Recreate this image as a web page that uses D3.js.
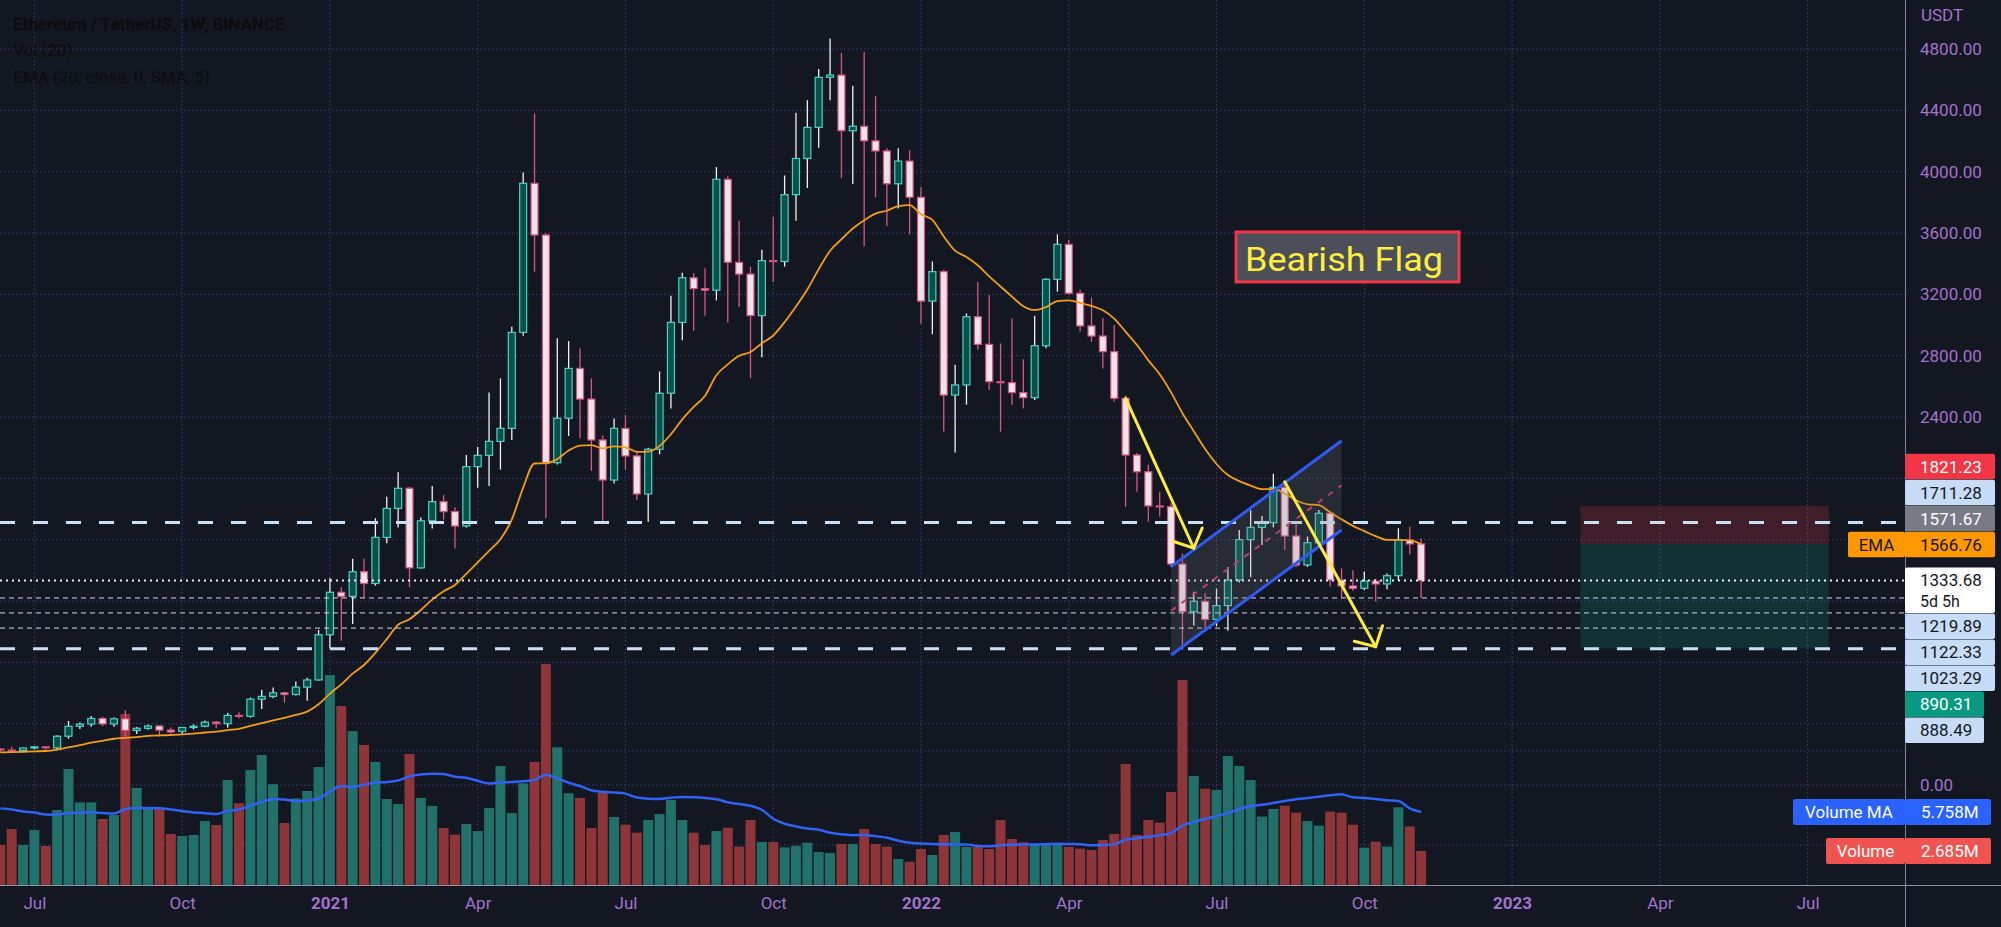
<!DOCTYPE html>
<html><head><meta charset="utf-8">
<script src="https://cdn.jsdelivr.net/npm/d3@7"></script>
<style>html,body{margin:0;padding:0;background:#131722;overflow:hidden}svg{display:block}</style>
</head><body>
<svg id="c" width="2001" height="927"></svg>
<script>
// ---------------- DATA (weekly ETH/USDT, Binance) ----------------
const firstWeek = "2020-06-15";
const open = [235,228,225,241,249,242,318,383,397,434,398,432,356,370,385,358,350,375,383,410,400,454,448,560,578,601,590,638,685,980,1257,1230,1391,1314,1615,1804,1935,1416,1723,1848,1783,1689,2076,2150,2241,2326,2952,3924,3587,2102,2392,2717,2517,2250,1989,2326,2146,1898,2190,2555,3017,3308,3237,3227,3950,3409,3332,3061,3420,3414,3850,4086,4289,4615,4630,4267,4296,4201,4135,3921,4069,3833,3156,3348,2543,2609,3054,2874,2630,2624,2559,2526,2865,3298,3526,3207,2994,2928,2826,2522,2152,2043,1820,1815,1441,1130,1198,1080,1170,1337,1600,1680,1711,1941,1624,1435,1580,1772,1337,1298,1283,1330,1311,1365,1598,1572];
const high = [240,249,243,252,250,325,418,408,450,445,440,488,378,395,390,375,370,395,420,418,470,475,570,622,636,607,675,700,1011,1350,1290,1475,1475,1740,1880,2040,1945,1745,1950,1891,1812,2152,2204,2559,2652,2989,3994,4380,3600,2913,2895,2848,2652,2280,2391,2413,2180,2200,2697,3190,3340,3337,3370,4030,3970,3680,3380,3490,3705,3975,4384,4465,4670,4869,4775,4560,4780,4495,4152,4152,4140,3900,3414,3360,2740,3076,3281,3195,2880,3043,2776,3061,3305,3591,3554,3230,3179,3044,3000,2540,2165,2088,1912,1838,1510,1261,1250,1281,1420,1663,1793,1754,2030,1960,1700,1620,1793,1785,1413,1400,1392,1345,1380,1674,1685,1607];
const low = [216,220,222,232,230,234,302,365,380,383,380,316,332,360,316,335,335,363,377,370,374,435,440,495,565,536,583,550,681,890,940,1050,1220,1300,1576,1680,1290,1410,1673,1730,1543,1680,1939,1950,2057,2250,2930,3348,1739,2090,2276,2262,2049,1717,1967,2054,1858,1717,2156,2455,2900,2962,3061,3160,3017,3117,2653,2790,3281,3381,3680,3894,4156,4465,3958,3920,3513,3833,3645,3759,3592,3006,2940,2305,2168,2480,2840,2576,2304,2480,2456,2511,2848,3217,3195,2957,2891,2717,2500,1815,1913,1717,1750,1420,881,1041,1000,1035,1006,1320,1356,1565,1680,1532,1422,1422,1550,1294,1220,1265,1270,1196,1276,1335,1505,1220];
const close = [228,225,241,249,242,318,383,397,434,398,432,356,370,385,358,346,375,383,410,400,454,448,560,578,601,590,638,685,980,1257,1230,1391,1314,1615,1804,1935,1416,1723,1848,1783,1689,2076,2150,2241,2326,2952,3924,3587,2102,2392,2717,2517,2250,1989,2326,2146,1898,2190,2555,3017,3308,3237,3227,3950,3409,3332,3061,3420,3414,3850,4086,4289,4615,4630,4267,4296,4201,4135,3921,4069,3833,3156,3348,2543,2609,3054,2874,2630,2624,2559,2526,2865,3298,3526,3207,2994,2928,2826,2522,2152,2043,1820,1815,1441,1130,1198,1080,1170,1337,1600,1680,1711,1941,1624,1435,1580,1772,1337,1298,1283,1330,1311,1365,1598,1572,1333.68];
// volume in millions of ETH
const volume = [3.16,4.42,3.16,4.34,3.08,5.92,9.16,6.52,6.52,5.21,5.52,13.5,7.66,6.08,6.08,4.03,3.87,3.95,5.05,4.74,8.29,6.45,9.08,10.26,7.95,4.89,6.84,7.42,9.31,16.57,14.13,12.15,11.05,9.71,6.79,6.39,10.34,6.87,6.24,4.50,3.97,4.81,4.26,6.08,9.39,5.68,8.03,9.71,17.44,10.87,7.24,6.87,4.50,7.32,5.37,4.76,4.13,5.13,5.60,6.71,5.13,4.13,3.16,4.26,4.52,3.03,5.13,3.39,3.39,2.97,3.10,3.34,2.60,2.53,3.24,3.24,4.42,3.24,3.03,2.05,1.84,2.84,2.37,3.95,4.18,3.00,3.00,2.84,5.13,3.63,3.37,3.24,3.24,3.24,3.00,2.87,2.76,3.55,4.03,9.55,3.95,5.13,4.92,7.34,16.18,8.60,7.60,7.50,10.18,9.39,8.29,5.40,6.00,6.26,5.71,5.05,4.68,5.79,5.71,4.76,2.95,3.42,3.03,6.13,4.62,2.685];
const emaPeriod = 20, emaSeed = 211;
const volMAPeriod = 20, volPriorAvg = 6.2;

const priceTicks = [0,400,800,1200,1600,2000,2400,2800,3200,3600,4000,4400,4800];
const volumeGridTicks = [3.16, 10.58];
const timeTicks = ["2020-07-06","2020-10-05","2021-01-04","2021-04-05","2021-07-05","2021-10-04","2022-01-03","2022-04-04","2022-07-04","2022-10-03","2023-01-02","2023-04-03","2023-07-03"];
const timeTickLabels = ["Jul","Oct","2021","Apr","Jul","Oct","2022","Apr","Jul","Oct","2023","Apr","Jul"];

const longDashLevels = [1711.28, 888.49];
const fineDashLevels = [1219.89, 1122.33, 1023.29];
const lastPrice = 1333.68;
const lastPriceCountdown = "5d 5h";

const positionDates = ["2023-02-13","2023-07-16"];
const positionLevels = {stop:1821.23, entry:1571.67, target:890.31};

const channelDates = ["2022-06-06","2022-09-19"];
const channelUpper = [1424, 2245];
const channelLower = [848, 1663];

const arrow1Dates = ["2022-05-09","2022-06-20"], arrow1Prices = [2522, 1544];
const arrow2Dates = ["2022-08-15","2022-10-10"], arrow2Prices = [1978, 902];

const flagLabelText = "Bearish Flag";
const flagLabelDate = "2022-07-16", flagLabelPrice = 3607;

const axisLabelValues = [1821.23, 1711.28, 1571.67, 1566.76, 1333.68, 1219.89, 1122.33, 1023.29, 890.31, 888.49];
const legendLines = ["Ethereum / TetherUS, 1W, BINANCE", "Vol (20)", "EMA (20, close, 0, SMA, 5)"];

// ---------------- STYLE ----------------
const BG = "#131722", GRID = "#3a3e7c", AXIS_TXT = "#a472cc";
const UP_FILL = "#0b4f49", UP_STROKE = "#48d2c9", UP_WICK = "#f2f2f2";
const DN_FILL = "#ede4e9", DN_STROKE = "#d94f7b", DN_WICK = "#de5580";
const VOL_UP = "#21706a", VOL_DN = "#8e3539";
const FONT = "Roboto, 'Liberation Sans', sans-serif";
const plotR = 1905, plotB = 885;

const svg = d3.select("#c");
const parse = d3.utcParse("%Y-%m-%d");
const x = d3.scaleUtc().domain([parse("2020-07-06"), parse("2023-07-03")]).range([34.4, 1807.6]);
const y = d3.scaleLinear().domain([0, 4800]).range([785, 49]);
const yv = d3.scaleLinear().domain([0, 10]).range([885, 758.3]);

const t0 = parse(firstWeek);
const bars = close.map((c, k) => ({date: new Date(t0.getTime() + k * 7 * 864e5), o: open[k], h: high[k], l: low[k], c, v: volume[k]}));

let e = emaSeed;
const ema = bars.map(b => (e = e + (2 / (emaPeriod + 1)) * (b.c - e)));
const vma = bars.map((b, k) => {
  let s = 0;
  for (let j = k - volMAPeriod + 1; j <= k; j++) s += j < 0 ? volPriorAvg : volume[j];
  return s / volMAPeriod;
});

svg.append("rect").attr("width", 2001).attr("height", 927).attr("fill", BG);
svg.append("defs").append("clipPath").attr("id", "plot").append("rect").attr("x", 0).attr("y", 0).attr("width", plotR).attr("height", plotB);
const P = svg.append("g").attr("clip-path", "url(#plot)");

// grid
P.append("g").selectAll("line").data(timeTicks.map(parse)).join("line")
  .attr("x1", d => x(d)).attr("x2", d => x(d)).attr("y1", 0).attr("y2", plotB)
  .attr("stroke", GRID).attr("stroke-width", 1).attr("stroke-dasharray", "1.5 2.5");
P.append("g").selectAll("line").data(priceTicks).join("line")
  .attr("x1", 0).attr("x2", plotR).attr("y1", d => y(d)).attr("y2", d => y(d))
  .attr("stroke", GRID).attr("stroke-width", 1).attr("stroke-dasharray", "1.5 2.5");
P.append("g").selectAll("line").data(volumeGridTicks).join("line")
  .attr("x1", 0).attr("x2", plotR).attr("y1", d => yv(d)).attr("y2", d => yv(d))
  .attr("stroke", GRID).attr("stroke-width", 1).attr("stroke-dasharray", "1.5 2.5");

// position tool
const pxa = x(parse(positionDates[0])), pxb = x(parse(positionDates[1]));
P.append("rect").attr("x", pxa).attr("width", pxb - pxa).attr("y", y(positionLevels.stop)).attr("height", y(positionLevels.entry) - y(positionLevels.stop)).attr("fill", "rgba(242,54,69,0.2)");
P.append("rect").attr("x", pxa).attr("width", pxb - pxa).attr("y", y(positionLevels.entry)).attr("height", y(positionLevels.target) - y(positionLevels.entry)).attr("fill", "rgba(8,153,129,0.2)");

// volume
P.append("g").selectAll("rect").data(bars).join("rect")
  .attr("x", d => x(d.date) - 5).attr("width", 10)
  .attr("y", d => yv(d.v)).attr("height", d => plotB - yv(d.v))
  .attr("fill", d => d.c >= d.o ? VOL_UP : VOL_DN);
P.append("path").datum(vma).attr("fill", "none").attr("stroke", "#2f62f5").attr("stroke-width", 2.5)
  .attr("d", d3.line().x((d, k) => x(bars[k].date)).y(d => yv(d)).curve(d3.curveMonotoneX));

// candles
const cg = P.append("g");
cg.selectAll("line").data(bars).join("line")
  .attr("x1", d => x(d.date)).attr("x2", d => x(d.date)).attr("y1", d => y(d.h)).attr("y2", d => y(d.l))
  .attr("stroke", d => d.c >= d.o ? UP_WICK : DN_WICK).attr("stroke-width", 1.3);
cg.selectAll("rect").data(bars).join("rect")
  .attr("x", d => x(d.date) - 3.5).attr("width", 7)
  .attr("y", d => y(Math.max(d.o, d.c))).attr("height", d => Math.max(1, Math.abs(y(d.o) - y(d.c))))
  .attr("fill", d => d.c >= d.o ? UP_FILL : DN_FILL).attr("stroke", d => d.c >= d.o ? UP_STROKE : DN_STROKE).attr("stroke-width", 1.2);

// EMA
P.append("path").datum(ema).attr("fill", "none").attr("stroke", "#f59d12").attr("stroke-width", 1.8)
  .attr("d", d3.line().x((d, k) => x(bars[k].date)).y(d => y(d)).curve(d3.curveMonotoneX));

// horizontal levels
P.append("g").selectAll("line").data(fineDashLevels).join("line")
  .attr("x1", 0).attr("x2", plotR).attr("y1", d => y(d)).attr("y2", d => y(d))
  .attr("stroke", "#d9d9e3").attr("stroke-width", 1).attr("stroke-dasharray", "5 4");
P.append("g").selectAll("line").data(longDashLevels).join("line")
  .attr("x1", 0).attr("x2", plotR).attr("y1", d => y(d)).attr("y2", d => y(d))
  .attr("stroke", "#c9def7").attr("stroke-width", 3).attr("stroke-dasharray", "15 18");
P.append("line").attr("x1", 0).attr("x2", plotR).attr("y1", y(lastPrice)).attr("y2", y(lastPrice))
  .attr("stroke", "#ececf2").attr("stroke-width", 2).attr("stroke-dasharray", "2 4");

// flag channel
const cx0 = x(parse(channelDates[0])), cx1 = x(parse(channelDates[1]));
P.append("polygon").attr("points", [[cx0, y(channelUpper[0])], [cx1, y(channelUpper[1])], [cx1, y(channelLower[1])], [cx0, y(channelLower[0])]].map(p => p.join(",")).join(" "))
  .attr("fill", "rgba(120,123,134,0.2)");
P.append("line").attr("x1", cx0).attr("x2", cx1).attr("y1", y((channelUpper[0] + channelLower[0]) / 2)).attr("y2", y((channelUpper[1] + channelLower[1]) / 2))
  .attr("stroke", "#b8426b").attr("stroke-width", 2).attr("stroke-dasharray", "6 7");
[channelUpper, channelLower].forEach(c => {
  P.append("line").attr("x1", cx0).attr("x2", cx1).attr("y1", y(c[0])).attr("y2", y(c[1]))
    .attr("stroke", "#2f5cf0").attr("stroke-width", 3);
});

// arrows
function arrow(dates, prices) {
  const x1 = x(parse(dates[0])), y1 = y(prices[0]), x2 = x(parse(dates[1])), y2 = y(prices[1]);
  const a = Math.atan2(y2 - y1, x2 - x1), L = 22, s = 0.82;
  const g = P.append("g").attr("stroke", "#ffeb3b").attr("stroke-width", 3).attr("stroke-linecap", "round").attr("fill", "none");
  g.append("line").attr("x1", x1).attr("y1", y1).attr("x2", x2).attr("y2", y2);
  g.append("path").attr("d", `M${x2 + L * Math.cos(a + Math.PI - s)},${y2 + L * Math.sin(a + Math.PI - s)}L${x2},${y2}L${x2 + L * Math.cos(a + Math.PI + s)},${y2 + L * Math.sin(a + Math.PI + s)}`);
}
arrow(arrow1Dates, arrow1Prices);
arrow(arrow2Dates, arrow2Prices);

// label
const lx = x(parse(flagLabelDate)), ly = y(flagLabelPrice);
P.append("rect").attr("x", lx).attr("y", ly).attr("width", 223).attr("height", 50)
  .attr("fill", "#4c4f59").attr("stroke", "#f23645").attr("stroke-width", 3);
P.append("text").attr("x", lx + 9).attr("y", ly + 39).text(flagLabelText)
  .attr("fill", "#ffee3a").style("font", `34px ${FONT}`).attr("textLength", 198).attr("lengthAdjust", "spacingAndGlyphs");

// axes lines
svg.append("line").attr("x1", 0).attr("x2", 2001).attr("y1", plotB + 0.5).attr("y2", plotB + 0.5).attr("stroke", "#8d91a8").attr("stroke-width", 1);
svg.append("line").attr("x1", plotR + 0.5).attr("x2", plotR + 0.5).attr("y1", 0).attr("y2", 927).attr("stroke", "#7d81a0").attr("stroke-width", 1);

// price labels layout (computed first, so that covered tick labels can be hidden)
const labelStyle = {
  1821.23: {bg: "#f23645", fg: "#ffffff", w: 90},
  1711.28: {bg: "#c6dcf7", fg: "#131722", w: 90},
  1571.67: {bg: "#787b86", fg: "#ffffff", w: 90},
  1566.76: {bg: "#ff9800", fg: "#131722", w: 90, anchor: true, tag: "EMA", tagW: 57},
  1333.68: {bg: "#ffffff", fg: "#131722", w: 90, anchor: true, extra: lastPriceCountdown},
  1219.89: {bg: "#c6dcf7", fg: "#131722", w: 90},
  1122.33: {bg: "#c6dcf7", fg: "#131722", w: 90},
  1023.29: {bg: "#c6dcf7", fg: "#131722", w: 90},
  890.31: {bg: "#089981", fg: "#ffffff", w: 79},
  888.49: {bg: "#c6dcf7", fg: "#131722", w: 79}
};
const LH = 26;
const labs = axisLabelValues.slice().sort((a, b) => b - a).map(v => {
  const st = labelStyle[v];
  const h = st.extra ? 46 : LH;
  return {v, st, h, top: y(v) - LH / 2};
});
const ai = labs.findIndex(d => d.st.anchor);
for (let i = ai + 1; i < labs.length; i++) labs[i].top = Math.max(labs[i].top, labs[i - 1].top + labs[i - 1].h);
for (let i = ai - 1; i >= 0; i--) labs[i].top = Math.min(labs[i].top, labs[i + 1].top - labs[i].h);
const volLabels = [
  {name: "Volume MA", value: vma[vma.length - 1], bg: "#2962ff", tagW: 112},
  {name: "Volume", value: volume[volume.length - 1], bg: "#f05350", tagW: 79}
];
const occupied = labs.map(d => [d.top, d.top + d.h]).concat(volLabels.map(d => [yv(d.value) - 13, yv(d.value) + 13]));
const visibleTicks = priceTicks.filter(t => !occupied.some(r => y(t) > r[0] - 9 && y(t) < r[1] + 9));

// right price axis
const gy = svg.append("g").attr("transform", `translate(${plotR},0)`)
  .call(d3.axisRight(y).tickValues(visibleTicks).tickFormat(d3.format(".2f")).tickSize(0).tickPadding(15));
gy.select(".domain").remove();
gy.selectAll("text").attr("fill", AXIS_TXT).style("font", `17px ${FONT}`);
svg.append("text").attr("x", 1921).attr("y", 15).attr("dy", "0.35em").text("USDT").attr("fill", AXIS_TXT).style("font", `17px ${FONT}`);

// bottom time axis
const gx = svg.append("g").attr("transform", `translate(0,${plotB})`)
  .call(d3.axisBottom(x).tickValues(timeTicks.map(parse)).tickFormat((d, k) => timeTickLabels[k]).tickSize(0).tickPadding(12));
gx.select(".domain").remove();
gx.selectAll("text").attr("fill", AXIS_TXT).style("font", (d, k) => `${/^\d/.test(timeTickLabels[k]) ? "bold " : ""}17px ${FONT}`);

// price labels
const lg = svg.append("g");
labs.forEach(d => {
  lg.append("rect").attr("x", plotR).attr("y", d.top).attr("width", d.st.w).attr("height", d.h - 0.5).attr("rx", 2).attr("fill", d.st.bg);
  lg.append("text").attr("x", plotR + 15).attr("y", d.top + LH / 2).attr("dy", "0.35em").text(d3.format(".2f")(d.v))
    .attr("fill", d.st.fg).style("font", `17px ${FONT}`);
  if (d.st.extra) lg.append("text").attr("x", plotR + 15).attr("y", d.top + LH / 2 + 21).attr("dy", "0.35em").text(d.st.extra)
    .attr("fill", d.st.fg).style("font", `16px ${FONT}`);
  if (d.st.tag) {
    lg.append("rect").attr("x", plotR - d.st.tagW).attr("y", d.top).attr("width", d.st.tagW).attr("height", d.h - 0.5).attr("rx", 2).attr("fill", d.st.bg);
    lg.append("text").attr("x", plotR - d.st.tagW / 2).attr("y", d.top + LH / 2).attr("dy", "0.35em").attr("text-anchor", "middle").text(d.st.tag)
      .attr("fill", d.st.fg).style("font", `17px ${FONT}`);
  }
});

// volume labels
volLabels.forEach(d => {
  const cy = yv(d.value);
  lg.append("rect").attr("x", plotR - d.tagW).attr("y", cy - 13).attr("width", d.tagW).attr("height", 26).attr("rx", 2).attr("fill", d.bg);
  lg.append("rect").attr("x", plotR).attr("y", cy - 13).attr("width", 86).attr("height", 26).attr("rx", 2).attr("fill", d.bg);
  lg.append("text").attr("x", plotR - d.tagW / 2).attr("y", cy).attr("dy", "0.35em").attr("text-anchor", "middle").text(d.name)
    .attr("fill", "#ffffff").style("font", `17px ${FONT}`);
  lg.append("text").attr("x", plotR + 16).attr("y", cy).attr("dy", "0.35em").text(d3.format(".3f")(d.value) + "M")
    .attr("fill", "#ffffff").style("font", `17px ${FONT}`);
});

// legend
svg.append("g").selectAll("text").data(legendLines).join("text")
  .attr("x", 13).attr("y", (d, k) => 24 + k * 26.5).attr("dy", "0.35em").text(d => d)
  .attr("fill", "#0c0c0e").style("font", (d, k) => `${k === 0 ? "bold " : ""}17px ${FONT}`);
</script>
</body></html>
